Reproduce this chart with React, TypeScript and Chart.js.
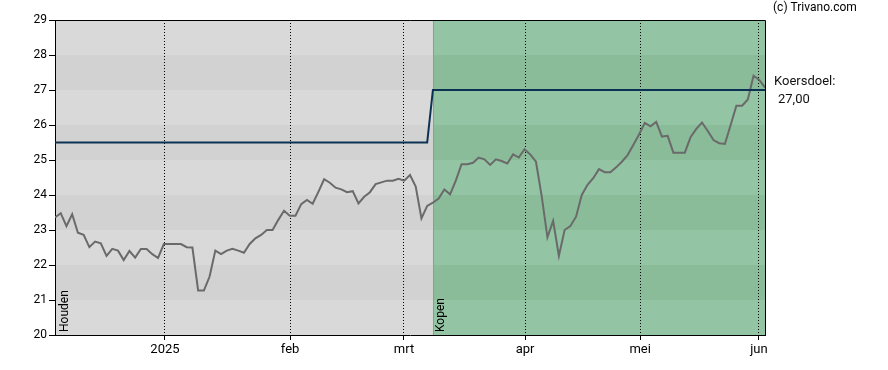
import React, { useEffect, useRef } from 'react';
import { Chart, registerables } from 'chart.js';

Chart.register(...registerables);

// Daily closing prices (trading days)
const PRICE: number[] = [
  23.36, 23.48, 23.11, 23.45, 22.92, 22.86, 22.51, 22.67, 22.62, 22.26,
  22.46, 22.41, 22.14, 22.40, 22.21, 22.46, 22.46, 22.31, 22.20, 22.60,
  22.60, 22.60, 22.60, 22.51, 22.50, 21.27, 21.27, 21.67, 22.41, 22.31,
  22.41, 22.46, 22.41, 22.35, 22.60, 22.76, 22.86, 23.00, 23.00, 23.29,
  23.55, 23.41, 23.41, 23.74, 23.86, 23.75, 24.09, 24.45, 24.35, 24.21,
  24.16, 24.08, 24.11, 23.76, 23.95, 24.08, 24.31, 24.36, 24.41, 24.41,
  24.46, 24.41, 24.57, 24.24, 23.33, 23.69, 23.78, 23.90, 24.16, 24.02,
  24.41, 24.88, 24.88, 24.92, 25.07, 25.02, 24.86, 25.02, 24.97, 24.90,
  25.16, 25.07, 25.31, 25.16, 24.95, 23.97, 22.79, 23.26, 22.26, 23.00,
  23.11, 23.38, 24.00, 24.29, 24.48, 24.74, 24.65, 24.65, 24.79, 24.95,
  25.14, 25.43, 25.73, 26.06, 25.96, 26.09, 25.67, 25.69, 25.21, 25.21,
  25.21, 25.65, 25.89, 26.07, 25.83, 25.57, 25.48, 25.46, 26.00, 26.55,
  26.55, 26.73, 27.41, 27.29, 27.07,
];

// Price target (koersdoel) levels and the trading-day index where it changed
const TARGET_LEVELS: number[] = [25.5, 27.0];
const TARGET_CHANGE_INDEX = 66;

// Month tick labels and their positions (trading-day index)
const MONTH_LABELS: string[] = ['2025', 'feb', 'mrt', 'apr', 'mei', 'jun'];
const MONTH_TICK_INDEX: number[] = [19.2, 41.05, 60.95, 82.1, 102.2, 122.95];

// Y axis range
const Y_MIN = 20;
const Y_MAX = 29;

// Advice signals (label + start index)
const SIGNAL_LABELS: string[] = ['Houden', 'Kopen'];
const SIGNAL_START_INDEX: number[] = [0, 66];

const TARGET_TITLE = 'Koersdoel:';
const TARGET_TEXT = '27,00';
const COPYRIGHT = '(c) Trivano.com';

const FONT = 'Roboto';

export default function App() {
  const ref = useRef<HTMLCanvasElement | null>(null);

  useEffect(() => {
    document.body.style.margin = '0';
    const canvas = ref.current;
    if (!canvas) return;

    const target = PRICE.map((_, i) => (i < TARGET_CHANGE_INDEX ? TARGET_LEVELS[0] : TARGET_LEVELS[1]));

    const bgPlugin = {
      id: 'bgBands',
      beforeDraw(chart: any) {
        const { ctx, chartArea, scales } = chart;
        const { left, right } = chartArea;
        const x = scales.x;
        const y = scales.y;
        const xs = x.getPixelForValue(SIGNAL_START_INDEX[1]);
        ctx.save();
        for (let v = Y_MIN; v < Y_MAX; v++) {
          const yTop = y.getPixelForValue(v + 1);
          const yBot = y.getPixelForValue(v);
          const dark = v % 2 === 1;
          ctx.fillStyle = dark ? '#d2d2d2' : '#d9d9d9';
          ctx.fillRect(left, yTop, xs - left, yBot - yTop);
          ctx.fillStyle = dark ? '#8abc9a' : '#93c4a3';
          ctx.fillRect(xs, yTop, right - xs, yBot - yTop);
        }
        ctx.strokeStyle = '#7aa889';
        ctx.lineWidth = 1;
        ctx.beginPath();
        ctx.moveTo(Math.round(xs) + 0.5, chartArea.top);
        ctx.lineTo(Math.round(xs) + 0.5, chartArea.bottom);
        ctx.stroke();
        ctx.restore();
      },
      afterDraw(chart: any) {
        const { ctx, chartArea, scales } = chart;
        const { left, right, top, bottom } = chartArea;
        const x = scales.x;
        ctx.save();
        // top and right border
        ctx.strokeStyle = '#000';
        ctx.lineWidth = 1;
        ctx.beginPath();
        ctx.moveTo(left, Math.round(top) + 0.5);
        ctx.lineTo(Math.round(right) + 0.5, Math.round(top) + 0.5);
        ctx.lineTo(Math.round(right) + 0.5, bottom);
        ctx.stroke();

        // signal labels
        ctx.fillStyle = '#000';
        ctx.font = `12px ${FONT}`;
        ctx.textAlign = 'left';
        ctx.textBaseline = 'alphabetic';
        SIGNAL_LABELS.forEach((label, i) => {
          const sx = x.getPixelForValue(SIGNAL_START_INDEX[i]);
          ctx.save();
          ctx.translate(sx + (i === 0 ? 13 : 11), bottom - 3);
          ctx.rotate(-Math.PI / 2);
          ctx.fillText(label, 0, 0);
          ctx.restore();
        });

        // right side texts
        ctx.textBaseline = 'middle';
        ctx.font = `12px ${FONT}`;
        ctx.fillStyle = '#000';
        ctx.fillText(COPYRIGHT, 773, 8);
        ctx.font = `13px ${FONT}`;
        ctx.fillStyle = '#111';
        ctx.fillText(TARGET_TITLE, 774, 82);
        ctx.fillText(TARGET_TEXT, 778, 100);
        ctx.restore();
      },
    };

    const chart = new Chart(canvas, {
      type: 'line',
      data: {
        datasets: [
          {
            label: 'Koers',
            data: PRICE.map((v, i) => ({ x: i, y: v })),
            borderColor: '#6a6a6a',
            borderWidth: 2,
            pointRadius: 0,
            tension: 0,
            fill: false,
            order: 2,
          },
          {
            label: 'Koersdoel',
            data: target.map((v, i) => ({ x: i, y: v })),
            borderColor: '#0c3253',
            borderWidth: 2,
            pointRadius: 0,
            tension: 0,
            fill: false,
            order: 1,
          },
        ],
      },
      options: {
        responsive: false,
        animation: false,
        events: [],
        layout: { padding: { left: 0, top: 20, right: 123, bottom: 0 } },
        plugins: {
          legend: { display: false },
          tooltip: { enabled: false },
          title: { display: false },
        },
        scales: {
          x: {
            type: 'linear',
            min: 0,
            max: PRICE.length - 1,
            afterBuildTicks: (scale: any) => {
              scale.ticks = MONTH_TICK_INDEX.map((v) => ({ value: v }));
            },
            afterFit: (scale: any) => {
              scale.height = 35;
            },
            ticks: {
              autoSkip: false,
              maxRotation: 0,
              minRotation: 0,
              padding: 2,
              color: '#000',
              font: { family: FONT, size: 13 },
              callback: (_v: any, i: number) => MONTH_LABELS[i],
            },
            grid: {
              display: true,
              drawOnChartArea: true,
              color: '#000',
              lineWidth: 1,
              tickLength: 5,
              tickColor: '#000',
              tickWidth: 1,
            },
            border: { display: true, color: '#000', width: 1, dash: [1, 2] },
          },
          y: {
            type: 'linear',
            min: Y_MIN,
            max: Y_MAX,
            afterFit: (scale: any) => {
              scale.width = 55;
            },
            ticks: {
              stepSize: 1,
              padding: 2,
              color: '#000',
              font: { family: FONT, size: 12 },
            },
            grid: {
              display: true,
              drawOnChartArea: false,
              tickLength: 6,
              tickColor: '#000',
              tickWidth: 1,
            },
            border: { display: true, color: '#000', width: 1 },
          },
        },
      },
      plugins: [bgPlugin],
    } as any);

    return () => chart.destroy();
  }, []);

  return (
    <div style={{ position: 'absolute', left: 0, top: 0, width: 888, height: 370 }}>
      <canvas ref={ref} width={888} height={370} />
    </div>
  );
}
